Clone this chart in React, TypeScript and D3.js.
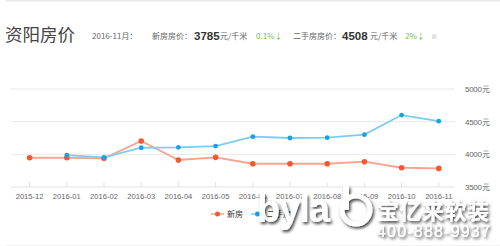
import React from "react";
import * as d3 from "d3";

const categories = ["2015-12","2016-01","2016-02","2016-03","2016-04","2016-05","2016-06","2016-07","2016-08","2016-09","2016-10","2016-11"];
const newHouse: (number | null)[] = [3948, 3948, 3939, 4204, 3913, 3954, 3856, 3856, 3856, 3887, 3795, 3785];
const secondHand: (number | null)[] = [null, 3989, 3954, 4101, 4107, 4127, 4270, 4250, 4255, 4301, 4601, 4508];
const yTicks = [3500, 4000, 4500, 5000];
const seriesNames = ["新房", "二手房"];

const W = 500, H = 246;
const CJK = "'Noto Sans CJK SC', 'Noto Sans', sans-serif";
const LAT = "'Liberation Sans', Arial, sans-serif";

export default function App() {
  const x = d3.scaleBand<string>().domain(categories).range([11, 457.4]).padding(0);
  const cx = (c: string) => (x(c) as number) + x.bandwidth() / 2;
  const y = d3.scaleLinear().domain([3500, 5000]).range([187, 89]);
  const line = d3.line<[string, number | null]>()
    .defined(d => d[1] != null)
    .x(d => cx(d[0]))
    .y(d => y(d[1] as number));
  const redPts = categories.map((c, i) => [c, newHouse[i]] as [string, number | null]);
  const bluePts = categories.map((c, i) => [c, secondHand[i]] as [string, number | null]);
  const red = "#f1592f", redLine = "#f6a48f", blue = "#17a2e6", blueLine = "#7acdf0";
  const green = "#6cc04a";

  return (
    <svg width={W} height={H} style={{ position: "absolute", left: 0, top: 0, background: "#fff" }}>
      <defs>
        <filter id="sh" x="-10%" y="-30%" width="130%" height="170%">
          <feDropShadow dx="1.5" dy="2" stdDeviation="1.6" floodColor="#000" floodOpacity="0.75" />
        </filter>
      </defs>
      <rect x={5} y={0} width={495} height={1.6} fill="#ececec" />
      {/* header */}
      <text x={5} y={41} fontFamily={CJK} fontSize={17.5} fill="#444">资阳房价</text>
      <text x={92} y={39} fontFamily={CJK} fontSize={8} fill="#666">2016-11月：</text>
      <text x={152} y={39} fontFamily={CJK} fontSize={8} fill="#666">新房房价：</text>
      <text x={194} y={40} fontFamily={LAT} fontSize={11.5} fontWeight="bold" fill="#333">3785</text>
      <text x={220} y={39} fontFamily={CJK} fontSize={8} fill="#666">元/千米</text>
      <text x={256} y={39} fontFamily={CJK} fontSize={8} fill={green}>0.1%↓</text>
      <text x={293} y={39} fontFamily={CJK} fontSize={8} fill="#666">二手房房价：</text>
      <text x={342} y={40} fontFamily={LAT} fontSize={11.5} fontWeight="bold" fill="#333">4508</text>
      <text x={370} y={39} fontFamily={CJK} fontSize={8} fill="#666">元/千米</text>
      <text x={405} y={39} fontFamily={CJK} fontSize={8} fill={green}>2%↓</text>
      <rect x={432} y={34} width={4.5} height={5} fill="#e4e4e4" />

      {/* grid */}
      {yTicks.map(t => (
        <g key={t}>
          <line x1={11} x2={455} y1={y(t)} y2={y(t)} stroke={t === 3500 ? "#e2e2e2" : "#e9e9e9"} strokeWidth={1} />
          <text x={465} y={y(t) + 3} fontFamily={LAT} fontSize={8} fill="#666" letterSpacing={-0.3}>{t}元</text>
        </g>
      ))}
      {categories.map(c => (
        <g key={c}>
          <line x1={cx(c)} x2={cx(c)} y1={182} y2={187} stroke="#e2e2e2" />
          <text x={cx(c)} y={199} textAnchor="middle" fontFamily={LAT} fontSize={7.6} fill="#666">{c}</text>
        </g>
      ))}

      {/* lines */}
      <path d={line(redPts) || ""} fill="none" stroke={redLine} strokeWidth={1.8} />
      <path d={line(bluePts) || ""} fill="none" stroke={blueLine} strokeWidth={1.8} />
      {redPts.filter(d => d[1] != null).map(d => (
        <circle key={"r" + d[0]} cx={cx(d[0])} cy={y(d[1] as number)} r={2.8} fill={red} />
      ))}
      {bluePts.filter(d => d[1] != null).map(d => (
        <circle key={"b" + d[0]} cx={cx(d[0])} cy={y(d[1] as number)} r={2.4} fill={blue} />
      ))}

      {/* legend */}
      <line x1={211} x2={224} y1={214} y2={214} stroke={redLine} strokeWidth={1.5} />
      <circle cx={217.5} cy={214} r={2.5} fill={red} />
      <text x={227} y={217} fontFamily={CJK} fontSize={8} fill="#333">{seriesNames[0]}</text>
      <line x1={251} x2={264} y1={214} y2={214} stroke={blueLine} strokeWidth={1.5} />
      <circle cx={257.5} cy={214} r={2.5} fill={blue} />
      <text x={267} y={217} fontFamily={CJK} fontSize={8} fill="#333">{seriesNames[1]}</text>

      <line x1={5} x2={500} y1={245.5} y2={245.5} stroke="#f2f2f2" />

      {/* watermark */}
      <g filter="url(#sh)" fill="#fff">
        <text x={257} y={222} fontFamily={LAT} fontWeight="bold" fontSize={38} letterSpacing={-1}>byla</text>
        <circle cx={356} cy={210} r={14} fill="none" stroke="#fff" strokeWidth={5} />
        <rect x={343} y={186} width={6} height={24} />
        <text x={377} y={219} fontFamily={CJK} fontWeight="bold" fontSize={22} letterSpacing={0.5}>宝亿来软装</text>
        <text x={377} y={237} fontFamily={LAT} fontSize={16} letterSpacing={1.2}>400-888-9937</text>
      </g>
    </svg>
  );
}
